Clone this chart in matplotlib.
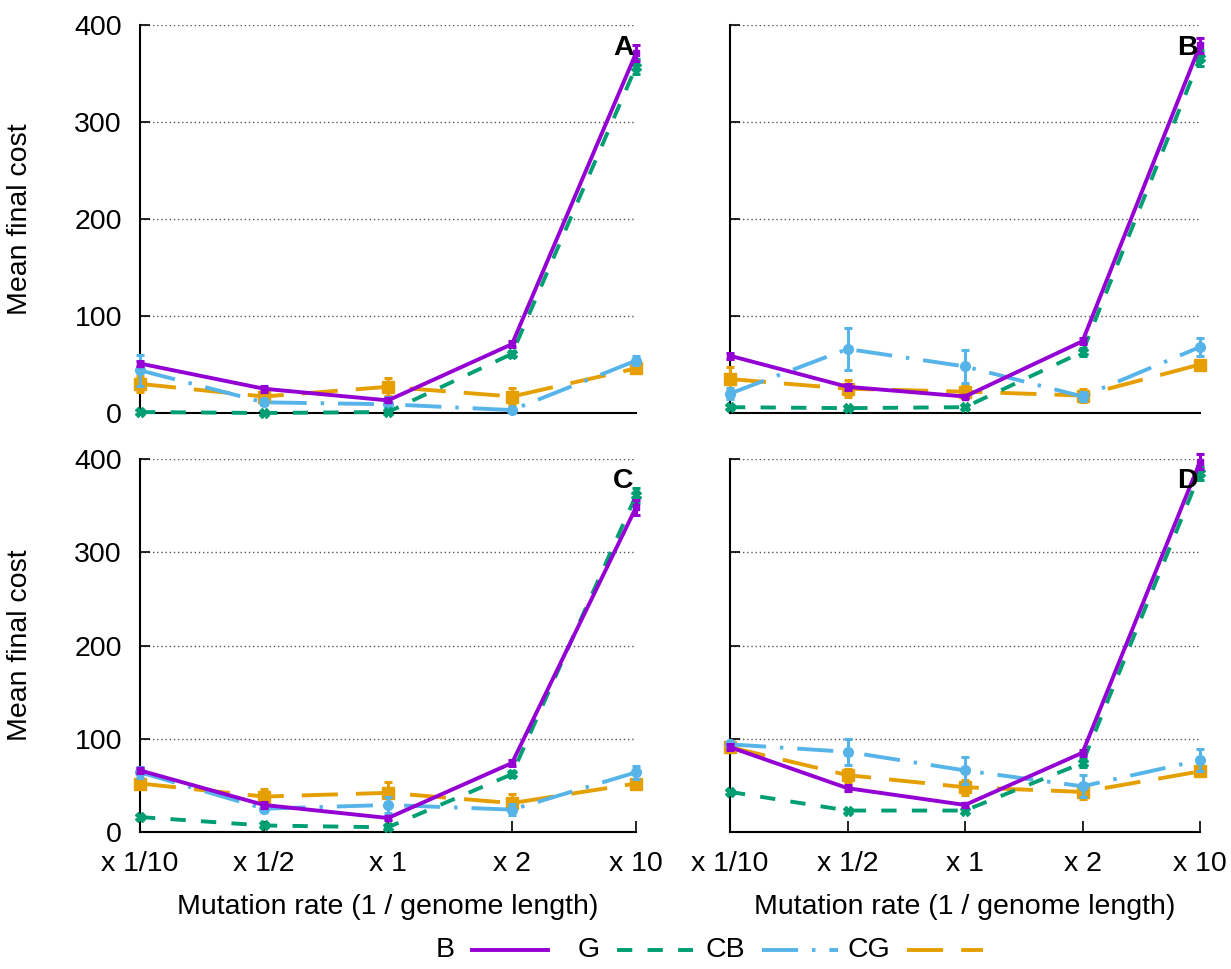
import matplotlib.pyplot as plt
from matplotlib.lines import Line2D

plt.rcParams['font.family'] = ['Liberation Sans', 'DejaVu Sans']
plt.rcParams['lines.scale_dashes'] = False

rates = ["x 1/10", "x 1/2", "x 1", "x 2", "x 10"]
xpos = [0, 1, 2, 3, 4]

# mean final cost per panel, per series
A_B = [51, 25, 13, 71, 371]
A_G = [1, 0, 1, 61, 357]
A_CB = [44, 11, 9, 3, 54]
A_CG = [30, 17, 27, 17, 46]
A_B_err = [3, 3, 2, 3, 8]
A_G_err = [2, 1, 1, 3, 8]
A_CB_err = [16, 3, 8, 2, 5]
A_CG_err = [8, 7, 9, 9, 3]

B_B = [59, 27, 17, 74, 379]
B_G = [6, 5, 6, 63, 366]
B_CB = [20, 66, 48, 17, 68]
B_CG = [35, 25, 22, 18, 50]
B_B_err = [3, 3, 2, 3, 8]
B_G_err = [2, 1, 1, 4, 8]
B_CB_err = [6, 22, 17, 5, 9]
B_CG_err = [12, 9, 7, 7, 3]

C_B = [66, 29, 15, 74, 348]
C_G = [16, 7, 5, 62, 361]
C_CB = [64, 25, 29, 24, 64]
C_CG = [52, 38, 42, 31, 52]
C_B_err = [3, 3, 2, 3, 8]
C_G_err = [2, 1, 2, 3, 8]
C_CB_err = [6, 4, 9, 6, 7]
C_CG_err = [5, 8, 12, 10, 5]

D_B = [91, 47, 29, 85, 397]
D_G = [43, 23, 23, 74, 385]
D_CB = [94, 86, 66, 49, 77]
D_CG = [91, 61, 48, 43, 65]
D_B_err = [3, 3, 2, 3, 8]
D_G_err = [2, 2, 2, 4, 8]
D_CB_err = [4, 14, 14, 12, 12]
D_CG_err = [5, 7, 8, 8, 4]

panels = [
    ("A", [A_B, A_G, A_CB, A_CG], [A_B_err, A_G_err, A_CB_err, A_CG_err]),
    ("B", [B_B, B_G, B_CB, B_CG], [B_B_err, B_G_err, B_CB_err, B_CG_err]),
    ("C", [C_B, C_G, C_CB, C_CG], [C_B_err, C_G_err, C_CB_err, C_CG_err]),
    ("D", [D_B, D_G, D_CB, D_CG], [D_B_err, D_G_err, D_CB_err, D_CG_err]),
]

names = ["B", "G", "CB", "CG"]
colors = ["#9400d3", "#009e73", "#56b4e9", "#e69f00"]
dashes = [None, (11, 11), (26, 10, 2.5, 10), (26, 13)]
markers = ["s", "X", "o", "s"]
msizes = [5, 7, 7, 8]
zord = [6, 5, 4, 3]
FS = 20.5

fig = plt.figure(figsize=(12.31, 9.69), dpi=100)
W, H = 1231.0, 969.0
boxes = [(140, 636, 25, 413), (730, 1200, 25, 413),
         (140, 636, 459, 832), (730, 1200, 459, 832)]

for i, (letter, series, errs) in enumerate(panels):
    l, r, t, b = boxes[i]
    ax = fig.add_axes([l / W, 1 - b / H, (r - l) / W, (b - t) / H])
    for j in range(4):
        ls = '-' if dashes[j] is None else (0, dashes[j])
        ax.errorbar(xpos, series[j], yerr=errs[j], color=colors[j], lw=2.8,
                    linestyle=ls, marker=markers[j], markersize=msizes[j],
                    elinewidth=2.2, capsize=3, capthick=2.2, zorder=zord[j],
                    clip_on=False)
    ax.set_xlim(0, 4)
    ax.set_ylim(0, 400)
    ax.set_yticks([0, 100, 200, 300, 400])
    ax.set_xticks(xpos)
    ax.yaxis.grid(True, linestyle=(0, (1, 2)), color='#555555', lw=1)
    ax.set_axisbelow(True)
    ax.spines['top'].set_visible(False)
    ax.spines['right'].set_visible(False)
    ax.spines['left'].set_linewidth(1.5)
    ax.spines['bottom'].set_linewidth(1.5)
    ax.tick_params(axis='y', direction='in', length=7, width=1.2, labelsize=FS, pad=13)
    ax.tick_params(axis='x', direction='in', length=8, width=1.2, labelsize=FS, pad=14)
    if i < 2:
        ax.tick_params(axis='x', length=0, labelbottom=False)
    else:
        ax.set_xticklabels(rates)
        ax.set_xlabel("Mutation rate (1 / genome length)", fontsize=FS, labelpad=12)
    if i % 2 == 0:
        ax.set_ylabel("Mean final cost", fontsize=FS, labelpad=30)
    else:
        ax.tick_params(axis='y', labelleft=False)
    ax.text(0.995, 0.975, letter, transform=ax.transAxes, ha='right', va='top',
            fontsize=FS, fontweight='bold', zorder=10)

# gnuplot-style key: right-justified text followed by the line sample
ky = 1 - 950 / H
for j in range(4):
    x0 = 455 + 145 * j
    fig.text(x0 / W, ky, names[j], ha='right', va='center', fontsize=FS)
    ls = '-' if dashes[j] is None else (0, dashes[j])
    fig.add_artist(Line2D([(x0 + 17) / W, (x0 + 93) / W], [ky, ky],
                          transform=fig.transFigure, color=colors[j],
                          lw=2.8, linestyle=ls))

fig.savefig("out.png", dpi=100)
